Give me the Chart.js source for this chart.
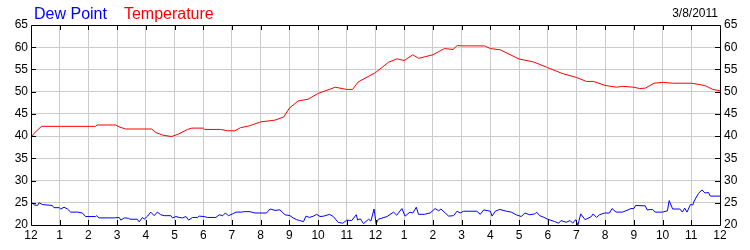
<!DOCTYPE html>
<html><head><meta charset="utf-8">
<script src="https://cdn.jsdelivr.net/npm/chart.js@4/dist/chart.umd.min.js"></script>
<style>html,body{margin:0;padding:0;background:#fff}#wrap{width:750px;height:250px}</style>
</head><body><div id="wrap"><canvas id="c" width="750" height="250"></canvas></div>
<script>
const hourLabels = ['12','1','2','3','4','5','6','7','8','9','10','11','12','1','2','3','4','5','6','7','8','9','10','11','12'];
const yTicks = [20,25,30,35,40,45,50,55,60,65];
const dateLabel = '3/8/2011';

const tempTimes = [0,0.1,0.25,0.37,1.0,1.6,2.25,2.3,2.95,3.1,3.3,4.2,4.35,4.6,4.9,5.15,5.45,5.6,6.0,6.05,6.6,6.85,7.1,7.3,7.6,8.0,8.5,8.8,9.0,9.3,9.65,10.0,10.6,11.0,11.2,11.4,12.0,12.45,12.75,13.0,13.3,13.5,14.0,14.4,14.7,14.85,15.0,15.8,16.0,16.35,17.0,17.5,18.0,18.5,19.0,19.35,19.6,20.0,20.4,20.6,21.0,21.2,21.4,21.7,22.0,22.35,23.0,23.3,23.5,23.75,24.0];
const tempValues = [39.5,40.6,41.5,42.2,42.2,42.2,42.2,42.5,42.5,42.0,41.6,41.6,40.8,40.2,39.9,40.5,41.5,41.8,41.8,41.5,41.5,41.2,41.2,41.9,42.3,43.2,43.6,44.3,46.3,47.9,48.3,49.6,51.0,50.5,50.5,52.2,54.3,56.6,57.4,57.0,58.3,57.5,58.3,59.7,59.5,60.4,60.3,60.3,59.7,59.4,57.35,56.7,55.4,54.1,53.2,52.3,52.3,51.4,51.0,51.2,51.0,50.7,50.8,51.9,52.1,51.9,51.9,51.6,51.3,50.5,50.2];

const dewTimes = [0,0.12,0.23,0.28,0.4,0.74,0.8,0.98,1.04,1.15,1.27,1.38,1.62,1.79,1.9,2.25,2.29,2.37,2.9,3.07,3.13,3.25,3.4,3.45,3.7,3.77,3.88,3.94,4.06,4.17,4.29,4.4,4.52,4.64,4.87,4.93,5.05,5.16,5.28,5.4,5.49,5.63,5.8,5.86,6.03,6.15,6.44,6.56,6.68,6.77,6.88,7.02,7.14,7.32,7.43,7.63,7.8,8.2,8.33,8.5,8.67,8.85,9.02,9.13,9.25,9.36,9.49,9.58,9.7,9.84,9.95,10.07,10.2,10.4,10.53,10.7,10.86,11.0,11.17,11.33,11.38,11.47,11.58,11.76,11.84,11.95,12.02,12.1,12.4,12.63,12.74,12.92,13.03,13.2,13.3,13.42,13.5,13.7,13.9,14.08,14.2,14.28,14.43,14.55,14.72,14.84,14.95,15.07,15.53,15.65,15.77,16.0,16.06,16.17,16.33,16.56,16.73,16.9,17.08,17.2,17.37,17.55,17.61,17.72,17.84,18.0,18.23,18.38,18.46,18.64,18.78,18.87,18.97,19.05,19.15,19.3,19.4,19.52,19.58,19.7,19.8,19.98,20.15,20.24,20.38,20.6,20.72,20.9,21.0,21.06,21.4,21.46,21.65,21.74,22.0,22.17,22.23,22.35,22.6,22.69,22.77,22.85,22.97,23.05,23.1,23.25,23.37,23.48,23.6,23.66,24.0];
const dewValues = [25.2,24.5,24.4,25.0,24.6,24.4,23.9,23.9,23.6,24.0,23.6,22.9,22.9,22.7,21.9,21.9,22.1,21.6,21.6,21.7,21.1,21.6,21.5,21.3,21.3,20.7,21.7,21.3,22.0,22.9,22.1,22.9,22.3,22.1,22.1,21.6,21.9,21.7,21.6,21.9,21.1,21.7,21.7,22.0,21.9,21.7,21.7,22.3,22.1,22.7,22.1,22.5,22.9,22.9,23.0,23.0,22.7,22.7,23.6,23.3,23.4,22.3,22.1,21.6,21.2,21.0,20.75,22.0,21.7,22.0,22.4,21.9,22.0,22.4,21.9,20.6,20.4,21.1,21.0,22.3,21.1,21.4,20.3,21.3,20.9,23.6,20.3,21.3,21.9,22.9,22.2,23.7,22.0,22.9,22.7,24.0,22.4,22.4,22.7,23.7,23.2,23.6,22.7,22.0,22.1,23.1,22.7,23.1,23.1,22.4,23.4,23.1,22.0,23.1,23.5,23.1,22.9,22.3,21.9,22.7,22.3,22.5,22.9,22.1,21.8,21.3,20.8,20.4,21.0,20.6,21.0,20.4,21.2,20.0,22.5,21.2,21.5,21.9,22.5,21.7,22.3,22.7,22.7,23.7,22.9,22.9,23.2,23.7,23.7,24.4,24.3,23.4,23.5,22.9,22.9,23.2,25.5,23.6,23.6,22.9,23.8,22.9,24.6,24.5,25.4,27.1,27.9,27.2,27.3,26.5,26.5];

const toPts = (xs, ys) => xs.map((x, i) => ({x, y: ys[i]}));

const frameTicks = {
  id: 'frameTicks',
  afterDraw(chart) {
    const {ctx, chartArea: a, scales} = chart;
    ctx.save();
    ctx.strokeStyle = '#000';
    ctx.lineWidth = 1;
    ctx.beginPath();
    ctx.rect(Math.round(a.left)+0.5, Math.round(a.top)+0.5, Math.round(a.right-a.left), Math.round(a.bottom-a.top));
    ctx.stroke();
    ctx.beginPath();
    for (let h = 1; h < hourLabels.length - 1; h++) {
      const x = Math.round(scales.x.getPixelForValue(h)) + 0.5;
      ctx.moveTo(x, a.top); ctx.lineTo(x, a.top + 5);
      ctx.moveTo(x, a.bottom); ctx.lineTo(x, a.bottom - 5);
    }
    yTicks.slice(1, -1).forEach(v => {
      const y = Math.round(scales.y.getPixelForValue(v)) + 0.5;
      ctx.moveTo(a.left, y); ctx.lineTo(a.left + 5, y);
      ctx.moveTo(a.right, y); ctx.lineTo(a.right - 5, y);
    });
    ctx.stroke();
    ctx.font = '16px "Liberation Sans", Arial, sans-serif';
    ctx.textBaseline = 'alphabetic';
    ctx.textAlign = 'left';
    let lx = 34;
    chart.data.datasets.forEach(ds => {
      ctx.fillStyle = ds.borderColor;
      ctx.fillText(ds.label, lx, 19);
      lx += ctx.measureText(ds.label).width + 17;
    });
    ctx.font = '12px "Liberation Sans", Arial, sans-serif';
    ctx.fillStyle = '#000';
    ctx.textAlign = 'right';
    ctx.fillText(dateLabel, 718, 17);
    ctx.restore();
  }
};

const tickFont = {family: '"Liberation Sans", Arial, sans-serif', size: 12};

new Chart(document.getElementById('c'), {
  type: 'line',
  data: {
    datasets: [
      {label: 'Dew Point', data: toPts(dewTimes, dewValues), borderColor: '#0000ff', borderWidth: 1, pointRadius: 0, tension: 0},
      {label: 'Temperature', data: toPts(tempTimes, tempValues), borderColor: '#ff0000', borderWidth: 1, pointRadius: 0, tension: 0}
    ]
  },
  options: {
    responsive: false,
    animation: false,
    layout: {padding: {top: 25, bottom: 0, left: 0, right: 0}},
    plugins: {legend: {display: false}, tooltip: {enabled: false}},
    scales: {
      x: {
        type: 'linear', min: 0, max: 24,
        afterBuildTicks: s => { s.ticks = hourLabels.map((_, i) => ({value: i})); },
        ticks: {callback: (v, i) => hourLabels[i], color: '#000', font: tickFont, padding: 3, maxRotation: 0, autoSkip: false},
        grid: {color: '#cccccc', drawTicks: false},
        border: {display: false},
        afterFit: s => { s.height = 25; }
      },
      y: {
        position: 'left', min: 20, max: 65,
        afterBuildTicks: s => { s.ticks = yTicks.map(v => ({value: v})); },
        ticks: {color: '#000', font: tickFont, padding: 3},
        grid: {color: '#cccccc', drawTicks: false},
        border: {display: false},
        afterFit: s => { s.width = 31; }
      },
      y2: {
        position: 'right', min: 20, max: 65,
        afterBuildTicks: s => { s.ticks = yTicks.map(v => ({value: v})); },
        ticks: {color: '#000', font: tickFont, padding: 4},
        grid: {display: false, drawTicks: false},
        border: {display: false},
        afterFit: s => { s.width = 30; }
      }
    }
  },
  plugins: [frameTicks]
});
</script>
</body></html>
